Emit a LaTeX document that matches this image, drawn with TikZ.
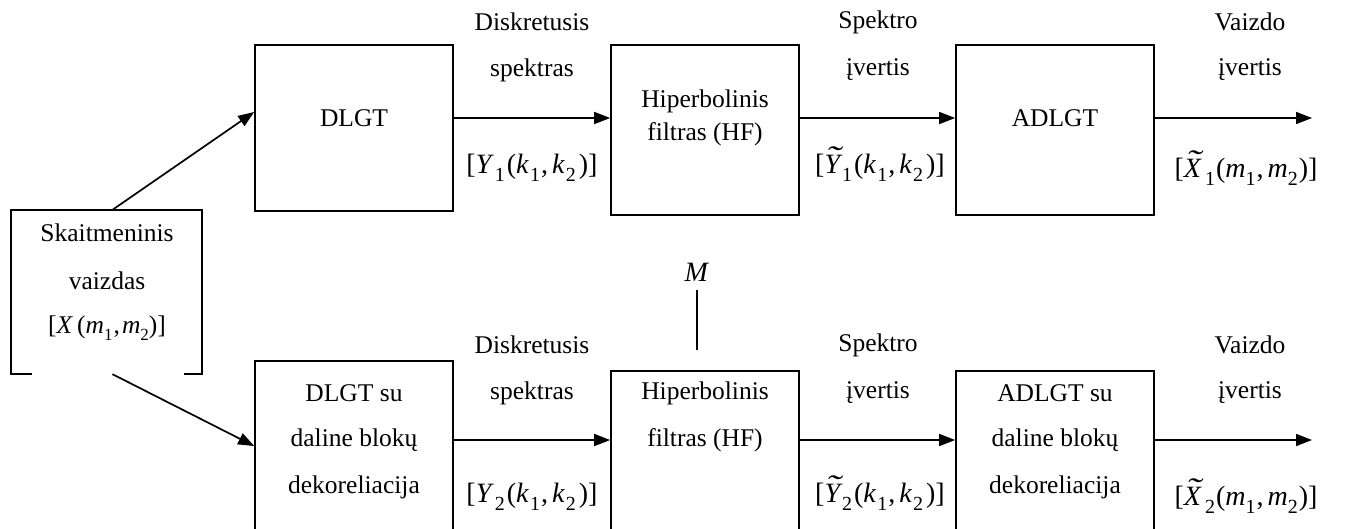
\documentclass[tikz,border=0pt]{standalone}
\usepackage{fontspec}
\setmainfont{Liberation Serif}
\usetikzlibrary{arrows.meta}
\newcommand\sbs[1]{\raisebox{-0.3em}{\fontsize{17}{17}\selectfont #1}}
\newcommand\sbl[1]{\raisebox{-0.3em}{\fontsize{20}{20}\selectfont #1}}
\newcommand\iv[1]{\textit{#1}}
\newcommand\tld[1]{\ooalign{#1\cr\hidewidth\kern0.06em\raisebox{0.2em}{\scalebox{1.6}[1.1]{\char"02DC}}\hidewidth\cr}}
\newcommand\lab[1]{{\fontsize{28}{30}\selectfont #1}}
\begin{document}
\begin{tikzpicture}[x=1pt,y=-1pt,
  every node/.style={font=\fontsize{25.5}{28}\selectfont},
  blk/.style={draw, line width=1.7pt, inner sep=0pt, rectangle},
  txt/.style={inner sep=0pt, anchor=center},
  arr/.style={line width=1.7pt, -{Triangle[length=16pt,width=12pt]}},
  ln/.style={line width=1.7pt}]
\clip (0,0) rectangle (1346,528);
% boxes (positions in px)
\node[rectangle, minimum width=191pt, minimum height=164pt, inner sep=0pt] (src) at (106.5,292) {};
\draw[ln] ([xshift=21pt]src.south west) -- (src.south west) -- (src.north west) -- (src.north east) -- (src.south east) -- ([xshift=-18pt]src.south east);
\node[blk, minimum width=198pt, minimum height=166pt] (d1) at (354,128) {};
\node[blk, minimum width=188pt, minimum height=170pt] (h1) at (705,130) {};
\node[blk, minimum width=198pt, minimum height=170pt] (a1) at (1055,130) {};
\node[blk, minimum width=198pt, minimum height=190pt] (d2) at (354,456) {};
\node[blk, minimum width=188pt, minimum height=180pt] (h2) at (705,461) {};
\node[blk, minimum width=198pt, minimum height=180pt] (a2) at (1055,461) {};
% box texts
\node[txt] (t1) at (107,233) {Skaitmeninis};
\node[txt] (t2) at (107,281) {vaizdas};
\node[txt] (t3) at (107,328) {[\iv{X}\,(\iv{m}\sbs{1}\kern1pt,\kern2pt\iv{m}\sbs{2})]};
\node[txt] (td1) at (354,118) {DLGT};
\node[txt] (th1a) at (705,101) {Hiperbolinis};
\node[txt] (th1b) at (705,134) {filtras (HF)};
\node[txt] (ta1) at (1055,118) {ADLGT};
\node[txt] (td2a) at (354,393) {DLGT su};
\node[txt] (td2b) at (354,440) {daline blokų};
\node[txt] (td2c) at (354,487) {dekoreliacija};
\node[txt] (th2a) at (705,393) {Hiperbolinis};
\node[txt] (th2b) at (705,440) {filtras (HF)};
\node[txt] (ta2a) at (1055,393) {ADLGT su};
\node[txt] (ta2b) at (1055,440) {daline blokų};
\node[txt] (ta2c) at (1055,487) {dekoreliacija};
% connector labels, top row
\node[txt] (l1a) at (532,22) {Diskretusis};
\node[txt] (l1b) at (532,70) {spektras};
\node[txt] (l1c) at (532,168) {\lab{[\iv{Y}\kern1pt\sbl{1}\kern2pt(\iv{k}\kern1pt\sbl{1}\kern1pt,\kern4pt\iv{k}\kern1pt\sbl{2}\kern3pt)]}};
\node[txt] (l2a) at (878,22) {Spektro};
\node[txt] (l2b) at (878,70) {įvertis};
\node[txt] (l2c) at (880,168) {\lab{[\iv{\tld{Y}}\kern2pt\sbl{1}\kern2pt(\iv{k}\kern1pt\sbl{1}\kern1pt,\kern4pt\iv{k}\kern1pt\sbl{2}\kern3pt)]}};
\node[txt] (l3a) at (1250,22) {Vaizdo};
\node[txt] (l3b) at (1250,70) {įvertis};
\node[txt] (l3c) at (1246,172) {\lab{[\iv{\tld{X}}\kern4pt\sbl{1}\kern1pt(\iv{m}\sbl{1}\kern1pt,\kern4pt\iv{m}\sbl{2}\kern1pt)]}};
% connector labels, bottom row
\node[txt] (m1a) at (532,345) {Diskretusis};
\node[txt] (m1b) at (532,393) {spektras};
\node[txt] (m1c) at (532,497) {\lab{[\iv{Y}\kern1pt\sbl{2}\kern2pt(\iv{k}\kern1pt\sbl{1}\kern1pt,\kern4pt\iv{k}\kern1pt\sbl{2}\kern3pt)]}};
\node[txt] (m2a) at (878,345) {Spektro};
\node[txt] (m2b) at (878,393) {įvertis};
\node[txt] (m2c) at (880,497) {\lab{[\iv{\tld{Y}}\kern2pt\sbl{2}\kern2pt(\iv{k}\kern1pt\sbl{1}\kern1pt,\kern4pt\iv{k}\kern1pt\sbl{2}\kern3pt)]}};
\node[txt] (m3a) at (1250,345) {Vaizdo};
\node[txt] (m3b) at (1250,393) {įvertis};
\node[txt] (m3c) at (1246,500) {\lab{[\iv{\tld{X}}\kern4pt\sbl{2}\kern1pt(\iv{m}\sbl{1}\kern1pt,\kern4pt\iv{m}\sbl{2}\kern1pt)]}};
% M input
\node[txt] (M) at (697,272) {\lab{\iv{M}}};
\coordinate (Mtop) at (697,290);
\coordinate (Mbot) at (697,350);
\draw[ln] (Mtop) -- (Mbot);
% outputs
\coordinate (o1) at (1312,118);
\coordinate (o2) at (1312,440);
% connectors
\draw[arr] ([xshift=6pt]src.north) -- (d1.west |- 0,112);
\draw[arr] ([xshift=6pt]src.south) -- (d2.west |- 0,446);
\draw[arr] (d1.east |- 0,118) -- (h1.west |- 0,118);
\draw[arr] (h1.east |- 0,118) -- (a1.west |- 0,118);
\draw[arr] (a1.east |- 0,118) -- (o1);
\draw[arr] (d2.east |- 0,440) -- (h2.west |- 0,440);
\draw[arr] (h2.east |- 0,440) -- (a2.west |- 0,440);
\draw[arr] (a2.east |- 0,440) -- (o2);
\end{tikzpicture}
\end{document}
